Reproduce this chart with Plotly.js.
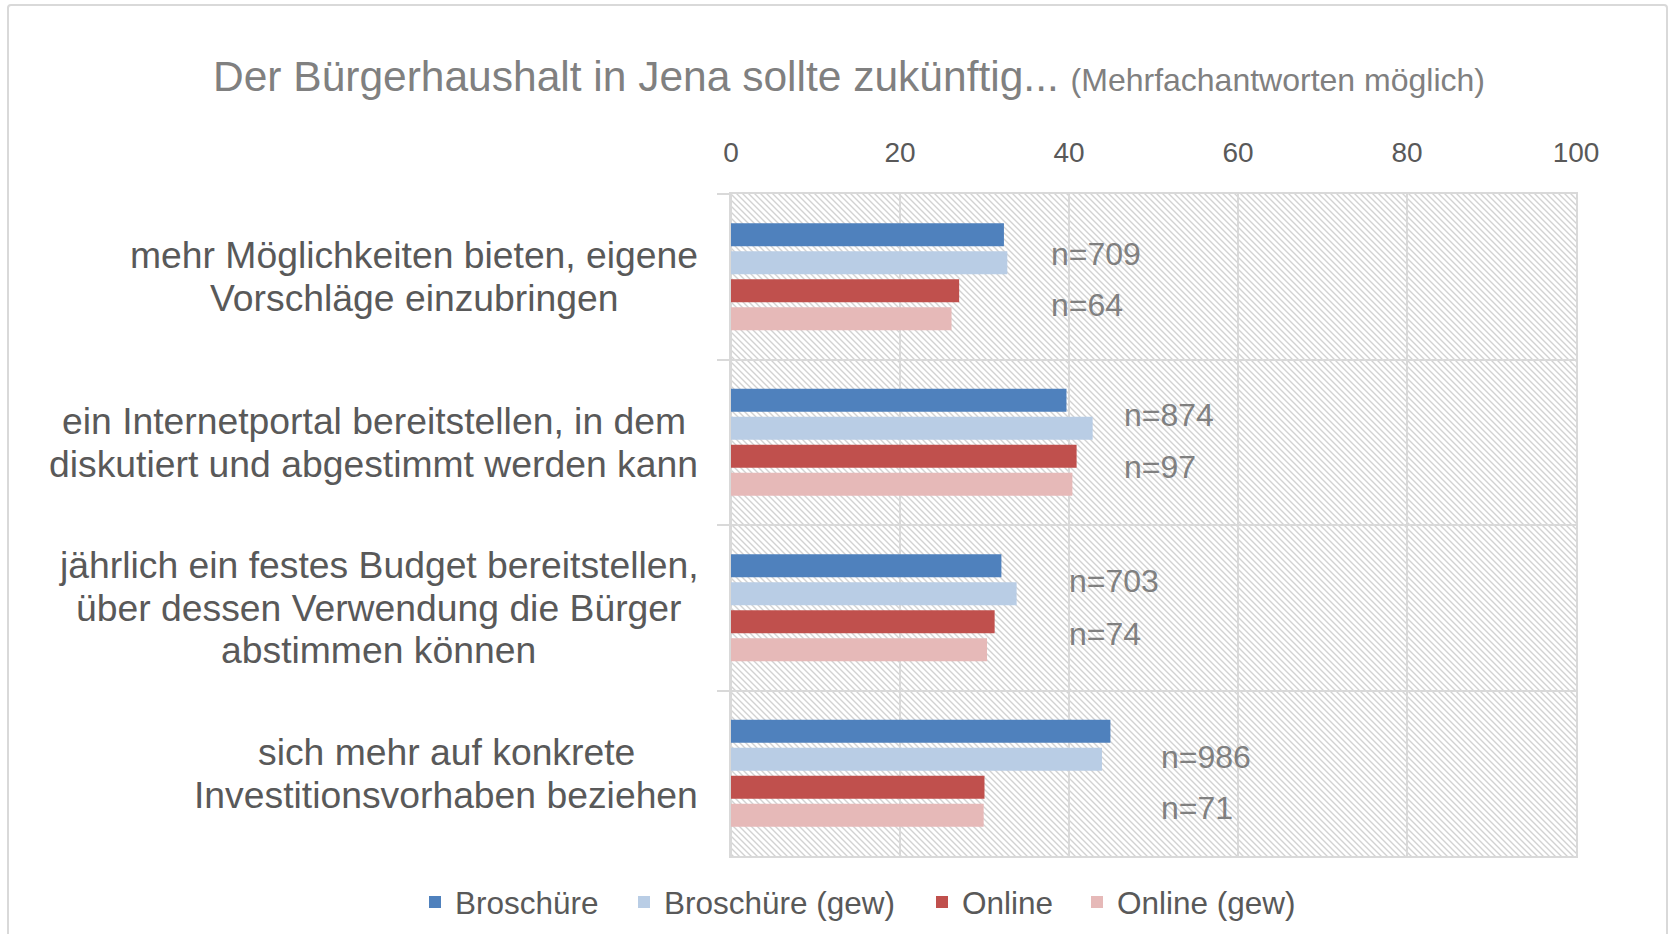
<!DOCTYPE html>
<html>
<head>
<meta charset="utf-8">
<script src="https://cdn.plot.ly/plotly-3.0.1.min.js"></script>
<style>
  html, body { margin: 0; padding: 0; background: #ffffff; }
  #wrap { position: relative; width: 1668px; height: 934px; overflow: hidden; }
  #chart { position: absolute; left: 0; top: 0; width: 1668px; height: 934px; }
  #frame { position: absolute; left: 7px; top: 4px; width: 1657px; height: 1000px;
           border: 2px solid #d9d9d9; border-radius: 4px; pointer-events: none; }
</style>
</head>
<body>
<div id="wrap">
  <div id="chart"></div>
  <div id="frame"></div>
</div>
<script>
// ---------- data ----------
const categories = [
  "mehr Möglichkeiten bieten, eigene<br>Vorschläge einzubringen",
  "ein Internetportal bereitstellen, in dem<br>diskutiert und abgestimmt werden kann",
  "jährlich ein festes Budget bereitstellen,<br>über dessen Verwendung die Bürger<br>abstimmen können",
  "sich mehr auf konkrete<br>Investitionsvorhaben beziehen"
];
const seriesNames = ["Broschüre", "Broschüre (gew)", "Online", "Online (gew)"];
const broschuere     = [32.3, 39.7, 32.0, 44.9];
const broschuereGew  = [32.7, 42.8, 33.8, 43.9];
const online         = [27.0, 40.9, 31.2, 30.0];
const onlineGew      = [26.1, 40.4, 30.3, 29.9];
const nBroschuere = ["n=709", "n=874", "n=703", "n=986"];
const nOnline     = ["n=64", "n=97", "n=74", "n=71"];
const xTicks = [0, 20, 40, 60, 80, 100];

// ---------- styling / layout ----------
const colors = ["#4F81BD", "#B9CDE5", "#C0504D", "#E6B9B8"];
const FONT = "Liberation Sans, Arial, sans-serif";
const W = 1668, H = 934;
const M = { l: 731, r: 92, t: 194, b: 78, autoexpand: false };
const plotW = W - M.l - M.r, plotH = H - M.t - M.b;
const grid = "#d9d9d9";
const legendNames = ["legend", "legend2", "legend3", "legend4"];

const values = [broschuere, broschuereGew, online, onlineGew];
const traces = values.map((v, i) => ({
  type: "bar",
  orientation: "h",
  name: seriesNames[i],
  legend: legendNames[i],
  x: v,
  y: categories,
  marker: { color: colors[i], line: { width: 0 } },
  hoverinfo: "x+name"
}));

// hatch background as svg image
const s = 6;
const hatchSvg =
  `<svg xmlns="http://www.w3.org/2000/svg" width="${plotW}" height="${plotH}">` +
  `<defs><pattern id="p" patternUnits="userSpaceOnUse" width="${s}" height="${s}">` +
  `<path d="M0,0 L${s},${s} M-1,${s-1} L1,${s+1} M${s-1},-1 L${s+1},1" stroke="#d2d2d2" stroke-width="1.4"/>` +
  `</pattern></defs><rect width="100%" height="100%" fill="#ffffff"/><rect width="100%" height="100%" fill="url(#p)"/></svg>`;
const hatchSrc = "data:image/svg+xml;charset=utf-8," + encodeURIComponent(hatchSvg);

// category label annotations (one per line, centred block, right edge near axis)
const labelFont = 37.3, lineStep = 42.6, labelRight = 698;
const cv = document.createElement("canvas").getContext("2d");
cv.font = labelFont + "px 'Liberation Sans'";
const annotations = [];
categories.forEach((cat) => {
  const lines = cat.split("<br>");
  const maxW = Math.max(...lines.map(t => cv.measureText(t).width));
  const cx = (labelRight - maxW / 2 - M.l) / plotW;
  lines.forEach((t, j) => {
    annotations.push({
      xref: "paper", yref: "y", x: cx, y: cat,
      xanchor: "center", yanchor: "middle",
      yshift: ((lines.length - 1) / 2 - j) * lineStep,
      text: t, showarrow: false,
      font: { family: FONT, size: labelFont, color: "#595959" }
    });
  });
});

// n= labels (placement)
const nLabelX = [37.65, 46.3, 39.8, 50.7];
const nShiftTop = [23, 27, 26.7, 16.7];
const nShiftBottom = [-28.5, -24.5, -26.3, -34.7];
categories.forEach((cat, i) => {
  [[nBroschuere[i], nShiftTop[i]], [nOnline[i], nShiftBottom[i]]].forEach(([t, dy]) => {
    annotations.push({
      xref: "x", yref: "y", x: nLabelX[i], y: cat,
      xanchor: "left", yanchor: "middle", yshift: dy,
      text: t, showarrow: false,
      font: { family: FONT, size: 32, color: "#808080" }
    });
  });
});

// legends: one per series so the spacing matches the reference
const legendMarkerPx = [429, 638, 936, 1091];
const legendCfg = {};
legendNames.forEach((ln, i) => {
  legendCfg[ln] = {
    orientation: "h",
    x: (legendMarkerPx[i] - 14 - M.l) / plotW, xanchor: "left",
    y: -(902 - (H - M.b)) / plotH, yanchor: "middle",
    font: { family: FONT, size: 31.5, color: "#595959" },
    bgcolor: "rgba(0,0,0,0)"
  };
});

const layout = Object.assign({
  width: W, height: H,
  margin: M,
  paper_bgcolor: "rgba(0,0,0,0)",
  plot_bgcolor: "#ffffff",
  font: { family: FONT, color: "#595959" },
  title: {
    text: "Der Bürgerhaushalt in Jena sollte zukünftig... <span style='font-size:32px'>(Mehrfachantworten möglich)</span>",
    font: { family: FONT, size: 42.5, color: "#808080" },
    x: 213 / W, xanchor: "left", xref: "container",
    y: 1 - 76 / H, yanchor: "middle", yref: "container"
  },
  barmode: "group",
  bargap: 0.323,
  bargroupgap: 0.18,
  xaxis: {
    range: [0, 100], side: "top",
    tickmode: "array", tickvals: xTicks, ticktext: xTicks.map(String),
    tickfont: { family: FONT, size: 28, color: "#595959" },
    ticks: "", ticklabelstandoff: 19,
    showgrid: true, gridcolor: grid, gridwidth: 2,
    zeroline: true, zerolinecolor: grid, zerolinewidth: 2,
    showline: true, mirror: true, linecolor: grid, linewidth: 2,
    fixedrange: true
  },
  yaxis: {
    type: "category",
    range: [3.5, -0.5],
    tickson: "boundaries",
    ticks: "outside", ticklen: 12, tickcolor: grid, tickwidth: 2,
    showticklabels: false,
    showgrid: true, gridcolor: grid, gridwidth: 2,
    showline: true, mirror: true, linecolor: grid, linewidth: 2,
    fixedrange: true
  },
  images: [{
    source: hatchSrc, xref: "paper", yref: "paper",
    x: 0, y: 1, sizex: 1, sizey: 1, xanchor: "left", yanchor: "top",
    sizing: "stretch", layer: "below"
  }],
  annotations: annotations,
  showlegend: true
}, legendCfg);

Plotly.newPlot("chart", traces, layout, { displayModeBar: false, staticPlot: true });
</script>
</body>
</html>
